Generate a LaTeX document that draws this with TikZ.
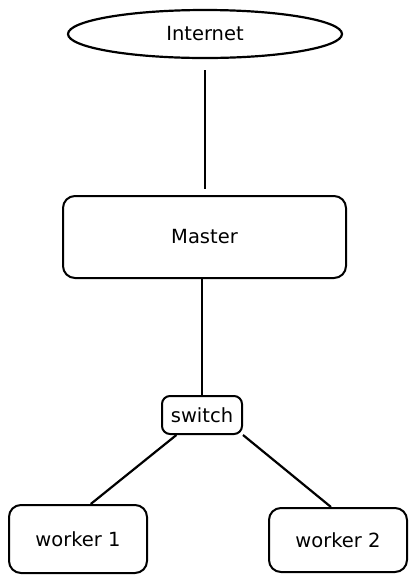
\documentclass[tikz,border=0pt]{standalone}
\usepackage{fontspec}
\setmainfont{DejaVu Sans}
\usepackage{tikz}
\usetikzlibrary{shapes.geometric}
\usetikzlibrary{calc}

\begin{document}
\begin{tikzpicture}[
    x=1pt, y=-1pt,
    every node/.style={color=black, font=\fontsize{19.5}{23}\selectfont},
    cloud node/.style={ellipse, draw, line width=2.2pt, inner sep=0pt, minimum width=274pt, minimum height=48pt},
    box node/.style={rectangle, draw, line width=2pt, rounded corners=12pt, inner sep=0pt},
    small box/.style={rectangle, draw, line width=2pt, rounded corners=8pt, inner sep=0pt},
    link line/.style={line width=2.2pt}
    ]

    \useasboundingbox (0,0) rectangle (416,582);
    % define positions
    \coordinate (I) at (205,34);
    \coordinate (M) at (204.5,237);
    \coordinate (S) at (202,415);
    \coordinate (W1) at (78,539);
    \coordinate (W2) at (338,540);
    % nodes
    \node[cloud node] (internet) at (I) {Internet};
    \node[box node, minimum width=283pt, minimum height=82pt] (master) at (M) {Master};
    \node[small box, minimum width=80pt, minimum height=38pt] (switch) at (S) {switch};
    \node[box node, minimum width=138pt, minimum height=68pt] (worker1) at (W1) {worker 1};
    \node[box node, minimum width=138pt, minimum height=64pt] (worker2) at (W2) {worker 2};
    % links
    \draw[link line, shorten <=11pt, shorten >=6pt] (internet.south) -- (internet.south |- master.north);
    \draw[link line] (master.south -| switch.north) -- (switch.north);
    \draw[link line] (switch.-142) -- (worker1.70);
    \draw[link line] (switch.-26) -- (worker2.102);

\end{tikzpicture}
\end{document}
